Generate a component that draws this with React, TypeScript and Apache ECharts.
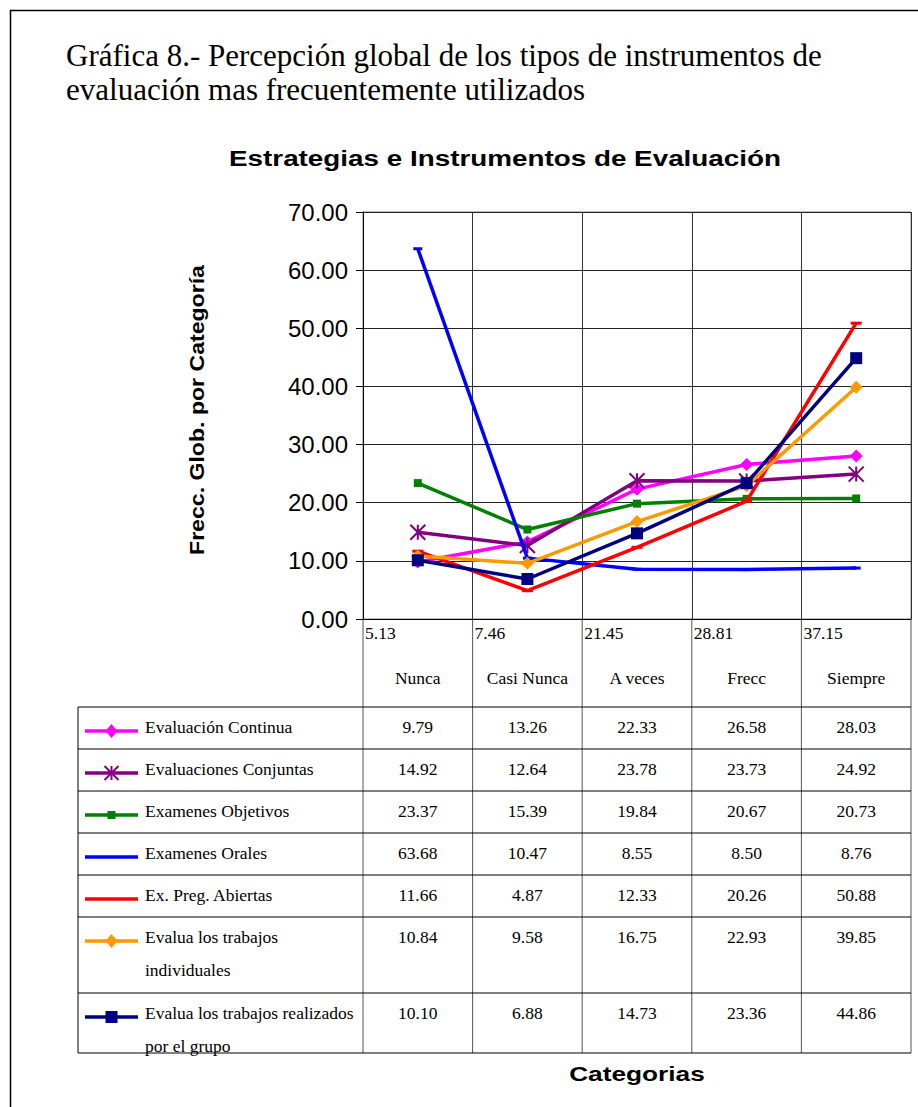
import React, { useEffect, useRef } from "react";
import * as echarts from "echarts";

const categories = ["Nunca", "Casi Nunca", "A veces", "Frecc", "Siempre"];
const headerValues = ["5.13", "7.46", "21.45", "28.81", "37.15"];

const seriesNames = [
  "Evaluación Continua",
  "Evaluaciones Conjuntas",
  "Examenes Objetivos",
  "Examenes Orales",
  "Ex. Preg. Abiertas",
  "Evalua los trabajos individuales",
  "Evalua los trabajos realizados por el grupo",
];
const legendLines = [
  ["Evaluación Continua"],
  ["Evaluaciones Conjuntas"],
  ["Examenes Objetivos"],
  ["Examenes Orales"],
  ["Ex. Preg. Abiertas"],
  ["Evalua los trabajos", "individuales"],
  ["Evalua los trabajos realizados", "por el grupo"],
];

const evaluacionContinua = [9.79, 13.26, 22.33, 26.58, 28.03];
const evaluacionesConjuntas = [14.92, 12.64, 23.78, 23.73, 24.92];
const examenesObjetivos = [23.37, 15.39, 19.84, 20.67, 20.73];
const examenesOrales = [63.68, 10.47, 8.55, 8.5, 8.76];
const exPregAbiertas = [11.66, 4.87, 12.33, 20.26, 50.88];
const trabajosIndividuales = [10.84, 9.58, 16.75, 22.93, 39.85];
const trabajosGrupo = [10.1, 6.88, 14.73, 23.36, 44.86];

const seriesData = [
  evaluacionContinua,
  evaluacionesConjuntas,
  examenesObjetivos,
  examenesOrales,
  exPregAbiertas,
  trabajosIndividuales,
  trabajosGrupo,
];

const yMin = 0;
const yMax = 70;
const yInterval = 10;

const STAR = "path://M0 0L10 10M10 0L0 10M5 0L5 10";

const styles = [
  { color: "#FF00FF", symbol: "diamond", size: 13, kind: "diamond" },
  { color: "#800080", symbol: STAR, size: 15, kind: "star" },
  { color: "#008000", symbol: "rect", size: 8, kind: "square" },
  { color: "#0000FF", symbol: "rect", size: [9, 3], kind: "none" },
  { color: "#FF0000", symbol: "rect", size: [11, 3], kind: "none" },
  { color: "#FF9900", symbol: "diamond", size: 13, kind: "diamond" },
  { color: "#000080", symbol: "rect", size: 12, kind: "bigsquare" },
];

const SERIF = "'Liberation Serif', 'Times New Roman', serif";
const SANS = "'Liberation Sans', Arial, sans-serif";
const TABLE_FONT = `17.5px ${SERIF}`;

const GRID = { left: 363, top: 212, width: 548, height: 407 };
const TABLE_LEFT = 78;
const HEADER_BOTTOM = 707;
const rowTops = [707, 749, 791, 833, 875, 917, 993];
const TABLE_BOTTOM = 1053;

export default function App() {
  const ref = useRef<HTMLDivElement>(null);
  useEffect(() => {
    document.body.style.margin = "0";
    const chart = echarts.init(ref.current!, null, { renderer: "svg" });
    chart.setOption({
      animation: false,
      backgroundColor: "#ffffff",
      grid: {
        left: GRID.left,
        top: GRID.top,
        width: GRID.width,
        height: GRID.height,
        show: true,
        borderColor: "#808080",
        borderWidth: 1,
      },
      xAxis: {
        type: "category",
        data: categories,
        boundaryGap: true,
        axisLabel: { show: false },
        axisTick: { show: false },
        axisLine: { lineStyle: { color: "#000", width: 1 } },
        splitLine: { show: true, interval: 0, lineStyle: { color: "#333", width: 1 } },
      },
      yAxis: {
        type: "value",
        min: yMin,
        max: yMax,
        interval: yInterval,
        axisLine: { show: true, lineStyle: { color: "#000", width: 1 } },
        axisTick: { show: true, length: 7, lineStyle: { color: "#000" } },
        axisLabel: {
          formatter: (v: number) => v.toFixed(2),
          fontSize: 24,
          fontFamily: SANS,
          color: "#000",
          margin: 15,
        },
        splitLine: { show: true, lineStyle: { color: "#222", width: 1 } },
      },
      series: seriesNames.map((name, i) => ({
        name,
        type: "line",
        data: seriesData[i],
        symbol: styles[i].symbol,
        symbolSize: styles[i].size,
        showSymbol: true,
        lineStyle: { color: styles[i].color, width: 3.5 },
        itemStyle: {
          color: styles[i].color,
          borderColor: styles[i].color,
          borderWidth: styles[i].kind === "star" ? 2 : 0,
        },
        z: 2 + i,
      })),
    });

    const centers = categories.map((c) => chart.convertToPixel({ xAxisIndex: 0 }, c) as number);
    const w = centers[1] - centers[0];
    const bounds = [centers[0] - w / 2, ...centers.map((c) => c + w / 2)];
    const plotBottom = chart.convertToPixel({ yAxisIndex: 0 }, yMin) as number;

    const g: any[] = [];
    g.push({
      type: "rect",
      shape: { x: 10.5, y: 10.5, width: 1000, height: 1200 },
      style: { fill: "none", stroke: "#000", lineWidth: 1.5 },
      silent: true,
    });
    g.push({
      type: "text",
      x: 66,
      y: 55,
      style: {
        text: "Gráfica 8.- Percepción global de los tipos de instrumentos de",
        font: `31px ${SERIF}`,
        fill: "#000",
        verticalAlign: "middle",
      },
    });
    g.push({
      type: "text",
      x: 66,
      y: 89,
      style: {
        text: "evaluación mas frecuentemente utilizados",
        font: `31px ${SERIF}`,
        fill: "#000",
        verticalAlign: "middle",
      },
    });
    g.push({
      type: "text",
      x: 505,
      y: 158,
      scaleX: 1.265,
      style: {
        text: "Estrategias e Instrumentos de Evaluación",
        font: `bold 22px ${SANS}`,
        fill: "#000",
        align: "center",
        verticalAlign: "middle",
      },
    });
    g.push({
      type: "text",
      x: 197,
      y: 410,
      rotation: Math.PI / 2,
      scaleX: 1.1,
      style: {
        text: "Frecc. Glob. por Categoría",
        font: `bold 21px ${SANS}`,
        fill: "#000",
        align: "center",
        verticalAlign: "middle",
      },
    });
    g.push({
      type: "text",
      x: 637,
      y: 1073,
      scaleX: 1.25,
      style: {
        text: "Categorias",
        font: `bold 21px ${SANS}`,
        fill: "#000",
        align: "center",
        verticalAlign: "middle",
      },
    });

    bounds.forEach((b) => {
      g.push({
        type: "line",
        shape: { x1: b, y1: plotBottom, x2: b, y2: TABLE_BOTTOM },
        style: { stroke: "#555", lineWidth: 1 },
        silent: true,
      });
    });
    g.push({
      type: "line",
      shape: { x1: TABLE_LEFT, y1: HEADER_BOTTOM, x2: TABLE_LEFT, y2: TABLE_BOTTOM },
      style: { stroke: "#000", lineWidth: 1 },
      silent: true,
    });
    [...rowTops, TABLE_BOTTOM].forEach((y) => {
      g.push({
        type: "line",
        shape: { x1: TABLE_LEFT, y1: y, x2: bounds[bounds.length - 1], y2: y },
        style: { stroke: "#000", lineWidth: 1 },
        silent: true,
      });
    });

    categories.forEach((c, i) => {
      g.push({
        type: "text",
        x: bounds[i] + 2,
        y: plotBottom + 14,
        style: { text: headerValues[i], font: TABLE_FONT, fill: "#000", verticalAlign: "middle" },
      });
      g.push({
        type: "text",
        x: centers[i],
        y: plotBottom + 59,
        style: { text: c, font: TABLE_FONT, fill: "#000", align: "center", verticalAlign: "middle" },
      });
    });

    seriesNames.forEach((_, s) => {
      const top = rowTops[s];
      const st = styles[s];
      const ly = top + 24;
      g.push({
        type: "line",
        shape: { x1: 85, y1: ly, x2: 138, y2: ly },
        style: { stroke: st.color, lineWidth: 3.5 },
        silent: true,
      });
      const cx = 111.5;
      if (st.kind === "diamond") {
        g.push({
          type: "polygon",
          shape: { points: [[cx, ly - 7], [cx + 6, ly], [cx, ly + 7], [cx - 6, ly]] },
          style: { fill: st.color },
        });
      } else if (st.kind === "square") {
        g.push({ type: "rect", shape: { x: cx - 4, y: ly - 4, width: 8, height: 8 }, style: { fill: st.color } });
      } else if (st.kind === "bigsquare") {
        g.push({ type: "rect", shape: { x: cx - 6, y: ly - 6, width: 12, height: 12 }, style: { fill: st.color } });
      } else if (st.kind === "star") {
        const r = 7;
        [
          [cx - r, ly - r, cx + r, ly + r],
          [cx + r, ly - r, cx - r, ly + r],
          [cx, ly - r, cx, ly + r],
        ].forEach(([x1, y1, x2, y2]) =>
          g.push({ type: "line", shape: { x1, y1, x2, y2 }, style: { stroke: st.color, lineWidth: 2 } })
        );
      }
      legendLines[s].forEach((t, k) => {
        g.push({
          type: "text",
          x: 145,
          y: top + 20 + k * 33,
          style: { text: t, font: TABLE_FONT, fill: "#000", verticalAlign: "middle" },
        });
      });
      seriesData[s].forEach((v, i) => {
        g.push({
          type: "text",
          x: centers[i],
          y: top + 20,
          style: { text: v.toFixed(2), font: TABLE_FONT, fill: "#000", align: "center", verticalAlign: "middle" },
        });
      });
    });

    chart.setOption({ graphic: g });
    return () => chart.dispose();
  }, []);
  return <div ref={ref} style={{ width: 918, height: 1107, position: "absolute", left: 0, top: 0 }} />;
}
